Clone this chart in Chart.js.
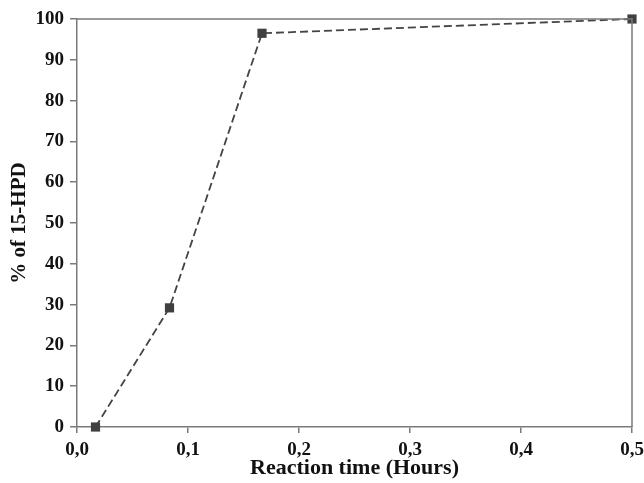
<!DOCTYPE html>
<html><head><meta charset="utf-8">
<script src="https://cdn.jsdelivr.net/npm/chart.js@4"></script>
<style>html,body{margin:0;padding:0;background:#fff}#wrap{width:644px;height:483px}</style>
</head><body><div id="wrap"><canvas id="c" width="644" height="483"></canvas></div>
<script>
const timeHours = [1/60, 5/60, 10/60, 0.5];
const percentHPD = [0, 29.2, 96.5, 100];
const xTicks = [0, 0.1, 0.2, 0.3, 0.4, 0.5];
const yTicks = [0, 10, 20, 30, 40, 50, 60, 70, 80, 90, 100];
const xTitle = 'Reaction time (Hours)';
const yTitle = '% of 15-HPD';

const serif = '"Liberation Serif", "Times New Roman", serif';
const frame = {
  id: 'frame',
  afterDraw(chart) {
    const a = chart.chartArea, ctx = chart.ctx;
    ctx.save();
    ctx.strokeStyle = '#7a7a7a';
    ctx.lineWidth = 1.5;
    ctx.beginPath();
    ctx.moveTo(a.left, a.top); ctx.lineTo(a.right, a.top); ctx.lineTo(a.right, a.bottom);
    ctx.stroke();
    ctx.restore();
  }
};
const font = {family: serif, weight: 'bold', size: 19};
new Chart(document.getElementById('c'), {
  type: 'line',
  data: {
    datasets: [{
      data: timeHours.map((x, i) => ({x, y: percentHPD[i]})),
      borderColor: '#444',
      borderWidth: 1.8,
      borderDash: [8, 4],
      pointStyle: 'rect',
      pointRadius: 6.5,
      pointBackgroundColor: '#404040',
      pointBorderColor: '#404040',
      pointBorderWidth: 0,
      tension: 0,
      clip: false
    }]
  },
  options: {
    responsive: false,
    animation: false,
    layout: {padding: {top: 19, right: 12, left: 0, bottom: 0}},
    plugins: {legend: {display: false}, tooltip: {enabled: false}},
    scales: {
      x: {
        type: 'linear', min: 0, max: 0.5,
        afterBuildTicks: s => { s.ticks = xTicks.map(v => ({value: v})); },
        afterFit: s => { s.height = 56; s.paddingRight = 0; s.paddingLeft = 0; },
        grid: {display: true, drawOnChartArea: false, drawTicks: true, tickLength: 6, color: '#7a7a7a', lineWidth: 1.5},
        border: {display: true, color: '#7a7a7a', width: 1.5},
        ticks: {color: '#111', font: font, padding: 6, maxRotation: 0,
          callback: v => v.toFixed(1).replace('.', ',')},
        title: {display: true, text: xTitle, color: '#111', font: {...font, size: 22}, padding: {top: -4, bottom: 1}}
      },
      y: {
        type: 'linear', min: 0, max: 100,
        afterBuildTicks: s => { s.ticks = yTicks.map(v => ({value: v})); },
        afterFit: s => { s.width = 77; s.paddingTop = 0; s.paddingBottom = 0; },
        grid: {display: true, drawOnChartArea: false, drawTicks: true, tickLength: 7, color: '#7a7a7a', lineWidth: 1.5},
        border: {display: true, color: '#7a7a7a', width: 1.5},
        ticks: {color: '#111', font: font, padding: 6},
        title: {display: true, text: yTitle, color: '#111', font: {...font, size: 21}, padding: {top: 7, bottom: 0}}
      }
    }
  },
  plugins: [frame]
});
</script>
</body></html>
